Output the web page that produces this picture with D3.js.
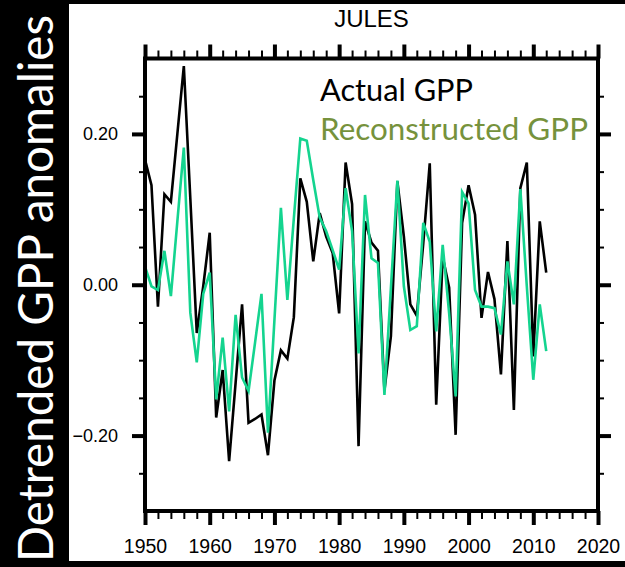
<!DOCTYPE html>
<html>
<head>
<meta charset="utf-8">
<script src="https://cdn.jsdelivr.net/npm/d3@7"></script>
<style>
  html, body { margin: 0; padding: 0; background: #000; }
  svg { display: block; }
</style>
</head>
<body>
<div id="chart"></div>
<script>
// --- data ---
const years = d3.range(1950, 2013);
const actualGpp = [
  0.166, 0.132, -0.029, 0.120, 0.110, 0.200, 0.290, 0.115, -0.064, -0.002,
  0.069, -0.176, -0.113, -0.234, -0.130, -0.026, -0.183, -0.178, -0.172, -0.226,
  -0.127, -0.087, -0.098, -0.043, 0.141, 0.110, 0.031, 0.095, 0.064, 0.042,
  -0.038, 0.162, 0.107, -0.214, 0.084, 0.056, 0.045, -0.140, -0.068, 0.137,
  0.064, -0.026, -0.041, 0.055, 0.161, -0.159, 0.037, -0.004, -0.199, 0.082,
  0.132, 0.093, -0.044, 0.017, -0.019, -0.119, 0.058, -0.166, 0.128, 0.162,
  -0.095, 0.084, 0.016
];
const reconstructedGpp = [
  0.024, -0.002, -0.007, 0.045, -0.015, 0.084, 0.182, -0.037, -0.103, -0.012,
  0.016, -0.152, -0.070, -0.168, -0.040, -0.123, -0.141, -0.077, -0.012, -0.196,
  -0.047, 0.102, -0.020, 0.088, 0.194, 0.191, 0.139, 0.089, 0.071, 0.046,
  0.020, 0.128, 0.071, -0.091, 0.119, 0.035, 0.029, -0.146, -0.004, 0.138,
  -0.002, -0.060, -0.055, 0.082, 0.057, -0.062, 0.053, -0.038, -0.148, 0.123,
  0.108, -0.007, -0.029, -0.029, -0.031, -0.066, 0.031, -0.026, 0.127, -0.002,
  -0.126, -0.026, -0.088
];
const xMajorTicks = [1950, 1960, 1970, 1980, 1990, 2000, 2010, 2020];
const xMinorTicks = d3.range(1950, 2021, 2);
const yMajorTicks = [-0.2, 0.0, 0.2];
const yMinorTicks = [-0.25, -0.15, -0.1, -0.05, 0.05, 0.1, 0.15, 0.25];
const legendLabels = ["Actual GPP", "Reconstructed GPP"];

// --- layout ---
const W = 625, H = 567;
const plot = { left: 145, right: 598, top: 58.5, bottom: 511 };
const GREEN_LINE = '#14d48f';
const GREEN_TEXT = '#76923c';

const svg = d3.select('#chart').append('svg')
    .attr('width', W)
    .attr('height', H);

svg.append('rect').attr('width', W).attr('height', H).attr('fill', '#000');
svg.append('rect')
    .attr('x', 69).attr('y', 4)
    .attr('width', W - 69).attr('height', 557)
    .attr('fill', '#fff');

let x = d3.scaleLinear().domain([1950, 2020]).range([plot.left, plot.right]);
let y = d3.scaleLinear().domain([-0.3, 0.3]).range([plot.bottom, plot.top]);

// y axis title on the black band
svg.append('text')
    .attr('transform', 'translate(53,562) rotate(-90)')
    .attr('font-family', 'Lato, "Open Sans", sans-serif')
    .attr('font-size', 48)
    .attr('fill', '#fff')
    .attr('textLength', 547)
    .attr('lengthAdjust', 'spacingAndGlyphs')
    .text('Detrended GPP anomalies');

// title
svg.append('text')
    .attr('x', (plot.left + plot.right) / 2)
    .attr('y', 26.5)
    .attr('text-anchor', 'middle')
    .attr('font-family', '"Liberation Sans", Arial, sans-serif')
    .attr('font-size', 24)
    .attr('fill', '#000')
    .text('JULES');

// series
let line = d3.line()
    .x((d, i) => x(years[i]))
    .y(d => y(d));

let series = svg.append('g');
series.append('path')
    .datum(actualGpp)
    .attr('d', line)
    .attr('fill', 'none')
    .attr('stroke', '#000')
    .attr('stroke-width', 2.6)
    .attr('stroke-linejoin', 'miter');
series.append('path')
    .datum(reconstructedGpp)
    .attr('d', line)
    .attr('fill', 'none')
    .attr('stroke', GREEN_LINE)
    .attr('stroke-width', 2.6)
    .attr('stroke-linejoin', 'miter');

// axes: ticks outward on all four sides
function styleAxis(g, width) {
    g.select('.domain').remove();
    g.selectAll('.tick line').attr('stroke', '#000').attr('stroke-width', width);
}

let axes = svg.append('g');
axes.append('g')
    .attr('transform', 'translate(0,' + plot.bottom + ')')
    .call(d3.axisBottom(x).tickValues(xMinorTicks).tickSize(8).tickFormat(''))
    .call(g => styleAxis(g, 2));
axes.append('g')
    .attr('transform', 'translate(0,' + plot.top + ')')
    .call(d3.axisTop(x).tickValues(xMinorTicks).tickSize(8).tickFormat(''))
    .call(g => styleAxis(g, 2));
axes.append('g')
    .attr('transform', 'translate(' + plot.left + ',0)')
    .call(d3.axisLeft(y).tickValues(yMinorTicks).tickSize(6).tickFormat(''))
    .call(g => styleAxis(g, 2));
axes.append('g')
    .attr('transform', 'translate(' + plot.right + ',0)')
    .call(d3.axisRight(y).tickValues(yMinorTicks).tickSize(6).tickFormat(''))
    .call(g => styleAxis(g, 2));

let gXBottom = axes.append('g')
    .attr('transform', 'translate(0,' + plot.bottom + ')')
    .call(d3.axisBottom(x).tickValues(xMajorTicks).tickSize(14).tickPadding(14).tickFormat(d3.format('d')))
    .call(g => styleAxis(g, 4));
gXBottom.selectAll('.tick text')
    .attr('font-family', '"Liberation Sans", Arial, sans-serif')
    .attr('font-size', 19.5)
    .attr('fill', '#000');

axes.append('g')
    .attr('transform', 'translate(0,' + plot.top + ')')
    .call(d3.axisTop(x).tickValues(xMajorTicks).tickSize(14).tickFormat(''))
    .call(g => styleAxis(g, 4));

let gYLeft = axes.append('g')
    .attr('transform', 'translate(' + plot.left + ',0)')
    .call(d3.axisLeft(y).tickValues(yMajorTicks).tickSize(13).tickPadding(14).tickFormat(d3.format('.2f')))
    .call(g => styleAxis(g, 4));
gYLeft.selectAll('.tick text')
    .attr('font-family', '"Liberation Sans", Arial, sans-serif')
    .attr('font-size', 18)
    .attr('fill', '#000');

axes.append('g')
    .attr('transform', 'translate(' + plot.right + ',0)')
    .call(d3.axisRight(y).tickValues(yMajorTicks).tickSize(13).tickFormat(''))
    .call(g => styleAxis(g, 4));

// frame
svg.append('rect')
    .attr('x', plot.left).attr('y', plot.top)
    .attr('width', plot.right - plot.left)
    .attr('height', plot.bottom - plot.top)
    .attr('fill', 'none')
    .attr('stroke', '#000')
    .attr('stroke-width', 4);

// legend text
let legend = svg.append('g')
    .attr('font-family', 'Lato, "Open Sans", sans-serif')
    .attr('font-size', 30);
legend.append('text')
    .attr('x', 320).attr('y', 100.5)
    .attr('fill', '#000')
    .attr('textLength', 153)
    .attr('lengthAdjust', 'spacingAndGlyphs')
    .text(legendLabels[0]);
legend.append('text')
    .attr('x', 320).attr('y', 140)
    .attr('fill', GREEN_TEXT)
    .attr('textLength', 268)
    .attr('lengthAdjust', 'spacingAndGlyphs')
    .text(legendLabels[1]);
</script>
</body>
</html>
